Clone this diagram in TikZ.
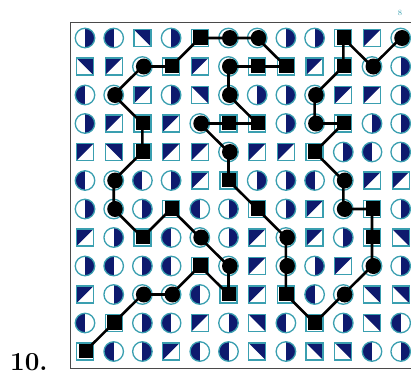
\documentclass[tikz,border=0pt]{standalone}
\usepackage{tikz}
\usetikzlibrary{positioning,calc}
\definecolor{TileNavy}{HTML}{0E1A6E}
\definecolor{TileTeal}{HTML}{3A9FB0}
\definecolor{FrameGray}{HTML}{4A4A4A}

\tikzset{
  tilebase/.style={inner sep=0pt, draw=TileTeal, line width=1.3pt, fill=white},
  tileL/.style={tilebase, circle, minimum size=19.5pt,
    path picture={\fill[TileNavy] (path picture bounding box.north) rectangle (path picture bounding box.south west);}},
  tileR/.style={tilebase, circle, minimum size=19.5pt,
    path picture={\fill[TileNavy] (path picture bounding box.north) rectangle (path picture bounding box.south east);}},
  tileA/.style={tilebase, rectangle, minimum size=17pt,
    path picture={\fill[TileNavy] (path picture bounding box.north west) -- (path picture bounding box.north east) -- (path picture bounding box.south east) -- cycle;}},
  tileB/.style={tilebase, rectangle, minimum size=17pt,
    path picture={\fill[TileNavy] (path picture bounding box.north west) -- (path picture bounding box.north east) -- (path picture bounding box.south west) -- cycle;}},
  tileP/.style={tilebase, circle, minimum size=19.5pt,
    path picture={\fill[black] ([xshift=1.5pt]path picture bounding box.center) circle (8pt);}},
  tileQ/.style={tilebase, rectangle, minimum size=17pt,
    path picture={\fill[black] ([shift={(-6.5pt,-6.5pt)}]path picture bounding box.center) rectangle ([shift={(9pt,9pt)}]path picture bounding box.center);}},
  trail/.style={line width=2.6pt, line join=round, line cap=round},
}

\begin{document}
\begin{tikzpicture}[x=1pt, y=-1pt]
  \useasboundingbox (0,0) rectangle (411,376);
  \clip (0,0) rectangle (411,376);

  % frame (right side runs off the page)
  \draw[FrameGray, line width=1pt] (418,22) -- (70,22) -- (70,368) -- (418,368);

  % the 12 x 12 tiles
  \foreach \rowlist [count=\rw from 0] in {
    {R,L,A,R,Q,P,P,R,R,Q,B,P},
    {A,B,P,Q,B,P,Q,Q,B,Q,P,R},
    {L,P,B,R,A,P,R,R,P,B,B,R},
    {R,B,Q,B,P,Q,Q,R,P,Q,R,R},
    {B,A,Q,B,B,P,B,B,Q,R,L,R},
    {L,P,L,R,B,Q,R,R,L,P,B,B},
    {R,P,R,Q,L,R,Q,R,B,P,Q,R},
    {B,R,Q,L,P,R,B,P,B,R,Q,A},
    {R,L,R,L,Q,P,B,P,R,B,P,R},
    {B,R,P,P,L,Q,B,Q,L,P,A,A},
    {L,Q,R,L,B,R,A,L,Q,R,A,L},
    {Q,L,R,B,L,L,A,R,A,A,L,R}} {
    \foreach \t [count=\cl from 0] in \rowlist {
      \node[tile\t] (t-\rw-\cl) at (85+28.7*\cl, 38+28.5*\rw) {};
    }
  }

  % the trail through the grid
  \draw[trail] (t-11-0.center)
    \foreach \p in {10-1,9-2,9-3,8-4,9-5,8-5,7-4,6-3,7-2,6-1,5-1,4-2,3-2,2-1,1-2,1-3,
                    0-4,0-5,0-6,1-7,1-6,1-5,2-5,3-6,3-5,3-4,4-5,5-5,6-6,7-7,8-7,9-7,
                    10-8,9-9,8-10,7-10,6-10,6-9,5-9,4-8,3-9,3-8,2-8,1-9,0-9,1-10,0-11}
    { -- (t-\p.center) };

  \node[font=\fontsize{26}{26}\selectfont\bfseries, anchor=base west, inner sep=0pt] (num) at (10,370) {10.};
  \node[font=\fontsize{8}{8}\selectfont, text=TileTeal, inner sep=0pt] (mark) at (400,13) {8};
\end{tikzpicture}
\end{document}
